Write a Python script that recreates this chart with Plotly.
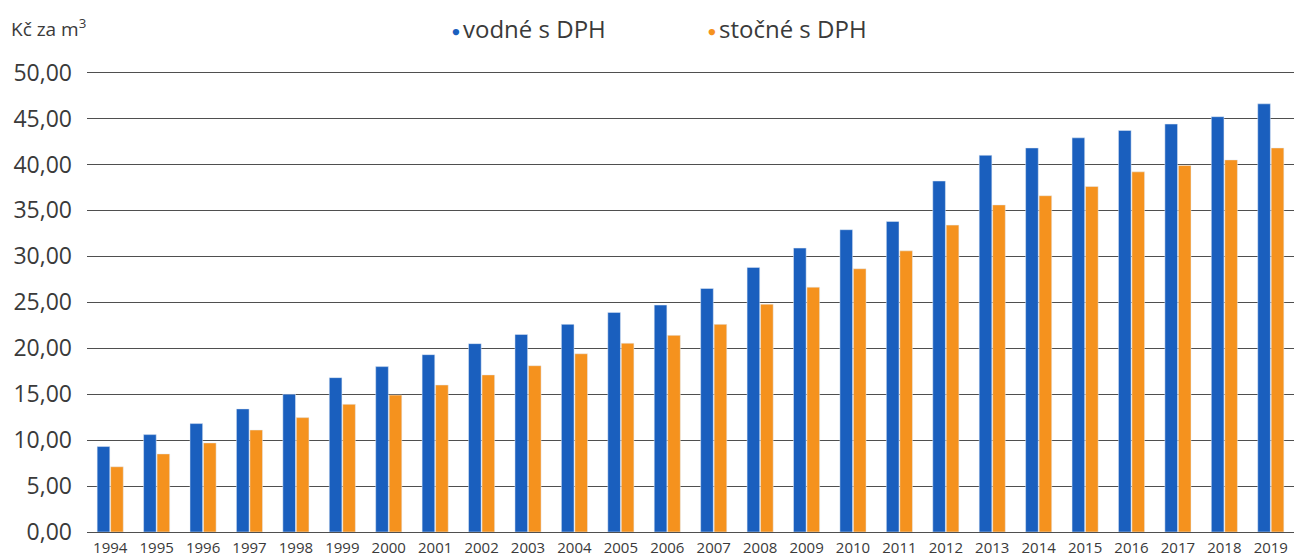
import plotly.graph_objects as go

years = [str(y) for y in range(1994, 2020)]
vodne = [9.3, 10.6, 11.8, 13.4, 15.0, 16.8, 18.0, 19.3, 20.5, 21.5, 22.6, 23.9, 24.7, 26.5,
         28.8, 30.9, 32.9, 33.8, 38.2, 41.0, 41.8, 42.9, 43.7, 44.4, 45.2, 46.6]
stocne = [7.1, 8.5, 9.7, 11.1, 12.45, 13.9, 14.9, 16.0, 17.1, 18.1, 19.4, 20.55, 21.4, 22.6,
          24.8, 26.65, 28.65, 30.6, 33.4, 35.6, 36.6, 37.6, 39.2, 39.9, 40.5, 41.8]
y_ticks = [0, 5, 10, 15, 20, 25, 30, 35, 40, 45, 50]
y_tick_text = [f"{v:.2f}".replace(".", ",") for v in y_ticks]
series_names = ["vodné s DPH", "stočné s DPH"]

BLUE = "#1a5fbe"
ORANGE = "#f5921e"
FONT = "'Open Sans', Lato, sans-serif"
TXT = "#3a3a3a"

fig = go.Figure()
fig.add_trace(go.Bar(x=years, y=vodne, name=series_names[0], marker_color=BLUE, showlegend=False))
fig.add_trace(go.Bar(x=years, y=stocne, name=series_names[1], marker_color=ORANGE, showlegend=False))

L, R, T, B = 87, 4, 68, 28
W, H = 1298, 560
pw = W - L - R
ph = H - T - B


def px_x(px):
    return (px - L) / pw


def px_y(py):
    return (H - B - py) / ph


annotations = [dict(text="Kč za m<sup>3</sup>", xref="paper", yref="paper",
                    x=px_x(9), y=px_y(28), xanchor="left", yanchor="middle", showarrow=False,
                    font=dict(size=19, color=TXT))]
for name, col, dot_x in [(series_names[0], BLUE, 456), (series_names[1], ORANGE, 712)]:
    annotations.append(dict(text="●", xref="paper", yref="paper", x=px_x(dot_x), y=px_y(31),
                            xanchor="center", yanchor="middle", showarrow=False,
                            font=dict(size=13, color=col)))
    annotations.append(dict(text=name, xref="paper", yref="paper", x=px_x(dot_x + 5), y=px_y(29),
                            xanchor="left", yanchor="middle", showarrow=False,
                            font=dict(size=24, color=TXT)))

fig.update_layout(
    width=W, height=H,
    margin=dict(l=L, r=R, t=T, b=B),
    plot_bgcolor="white", paper_bgcolor="white",
    barmode="group", bargap=0.42, bargroupgap=0.06,
    font=dict(family=FONT, color=TXT),
    showlegend=False,
    xaxis=dict(type="category", showgrid=False, showline=False, ticks="",
               tickfont=dict(size=15, color=TXT), ticklabelstandoff=5),
    yaxis=dict(range=[0, 50.5], tickvals=y_ticks, ticktext=y_tick_text,
               showgrid=True, gridcolor="#4f4f4f", gridwidth=1,
               zeroline=True, zerolinecolor="#4f4f4f", zerolinewidth=1,
               showline=False, ticks="", tickfont=dict(size=23, color=TXT),
               ticklabelstandoff=14),
    annotations=annotations,
)

fig.write_html("out.html", config={"displayModeBar": False},
               post_script="document.body.style.margin='0px';")
